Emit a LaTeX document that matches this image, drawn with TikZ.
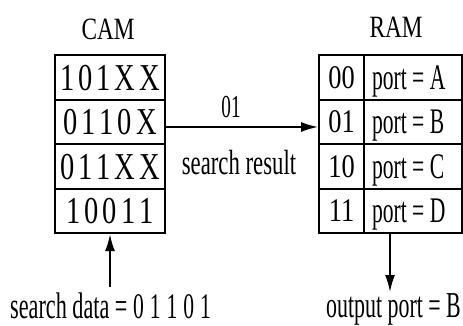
\documentclass[tikz,border=0pt]{standalone}
\usepackage{fontspec}
\setmainfont{Liberation Serif}[FakeStretch=0.75]
\newfontfamily\fKey{Liberation Serif}[FakeStretch=0.8]
\newfontfamily\fNarrow{Liberation Serif}[FakeStretch=0.6]
\newfontfamily\fMid{Liberation Serif}[FakeStretch=0.65]
\usetikzlibrary{arrows.meta}
\newcommand{\dg}{\kern4pt}
\newcommand{\dd}{\kern6pt}
\newcommand{\valtext}[1]{\makebox[82pt][l]{#1}}
\begin{document}
\begin{tikzpicture}[x=1pt,y=-1pt,
  cell/.style={draw,line width=1.8pt,minimum height=44.5pt,inner sep=0pt,text depth=0pt},
  camcell/.style={cell,minimum width=110pt,font=\fontsize{38}{38}\selectfont},
  keycell/.style={cell,minimum width=45pt,font=\fontsize{33}{33}\fKey},
  valcell/.style={cell,minimum width=98pt,inner xsep=8pt,font=\fontsize{36}{36}\fNarrow},
  title/.style={anchor=base,inner sep=0pt,font=\fontsize{31}{31}\selectfont},
  lbl/.style={anchor=base,inner sep=0pt},
  arr/.style={line width=1.8pt,-{Latex[length=17pt,width=10pt]}}]
\useasboundingbox (0,0) rectangle (463,326);
% CAM
\node[title] (camt) at (108,40) {CAM};
\node[camcell] (c1) at (110,77.5) {1\dg0\dg1\dg X\dg X};
\node[camcell] (c2) at (110,122) {0\dg1\dg1\dg0\dg X};
\node[camcell] (c3) at (110,166.5) {0\dg1\dg1\dg X\dg X};
\node[camcell] (c4) at (110,211) {1\dg0\dg0\dg1\dg1};
% RAM
\node[title] (ramt) at (396,38) {RAM};
\node[keycell] (k1) at (341.5,77.5) {00};
\node[keycell] (k2) at (341.5,122) {01};
\node[keycell] (k3) at (341.5,166.5) {10};
\node[keycell] (k4) at (341.5,211) {11};
\node[valcell] (v1) at (413,77.5) {\valtext{port = A}};
\node[valcell] (v2) at (413,122) {\valtext{port = B}};
\node[valcell] (v3) at (413,166.5) {\valtext{port = C}};
\node[valcell] (v4) at (413,211) {\valtext{port = D}};
% labels
\node[lbl,font=\fontsize{32}{32}\fNarrow] (res) at (231,118) {01};
\node[lbl,font=\fontsize{35}{35}\fMid] (resl) at (239,175) {search result};
\node[lbl,anchor=base west,font=\fontsize{37}{37}\fNarrow] (sd) at (10,318) {search data = {\fontsize{36}{36}\selectfont 0\dd1\dd1\dd0\dd1}};
\node[lbl,anchor=base west,font=\fontsize{36.5}{36.5}\fNarrow] (op) at (326,317) {output port = B};
% connectors
\draw[arr] ([yshift=-5pt]c2.east) -- ([yshift=-5pt]k2.west);
\coordinate (sdtop) at (110,287);
\draw[arr] (sdtop) -- (c4.south -| sdtop);
\coordinate (optip) at (390,292);
\draw[arr] (v4.south -| optip) -- (optip);
\end{tikzpicture}
\end{document}
